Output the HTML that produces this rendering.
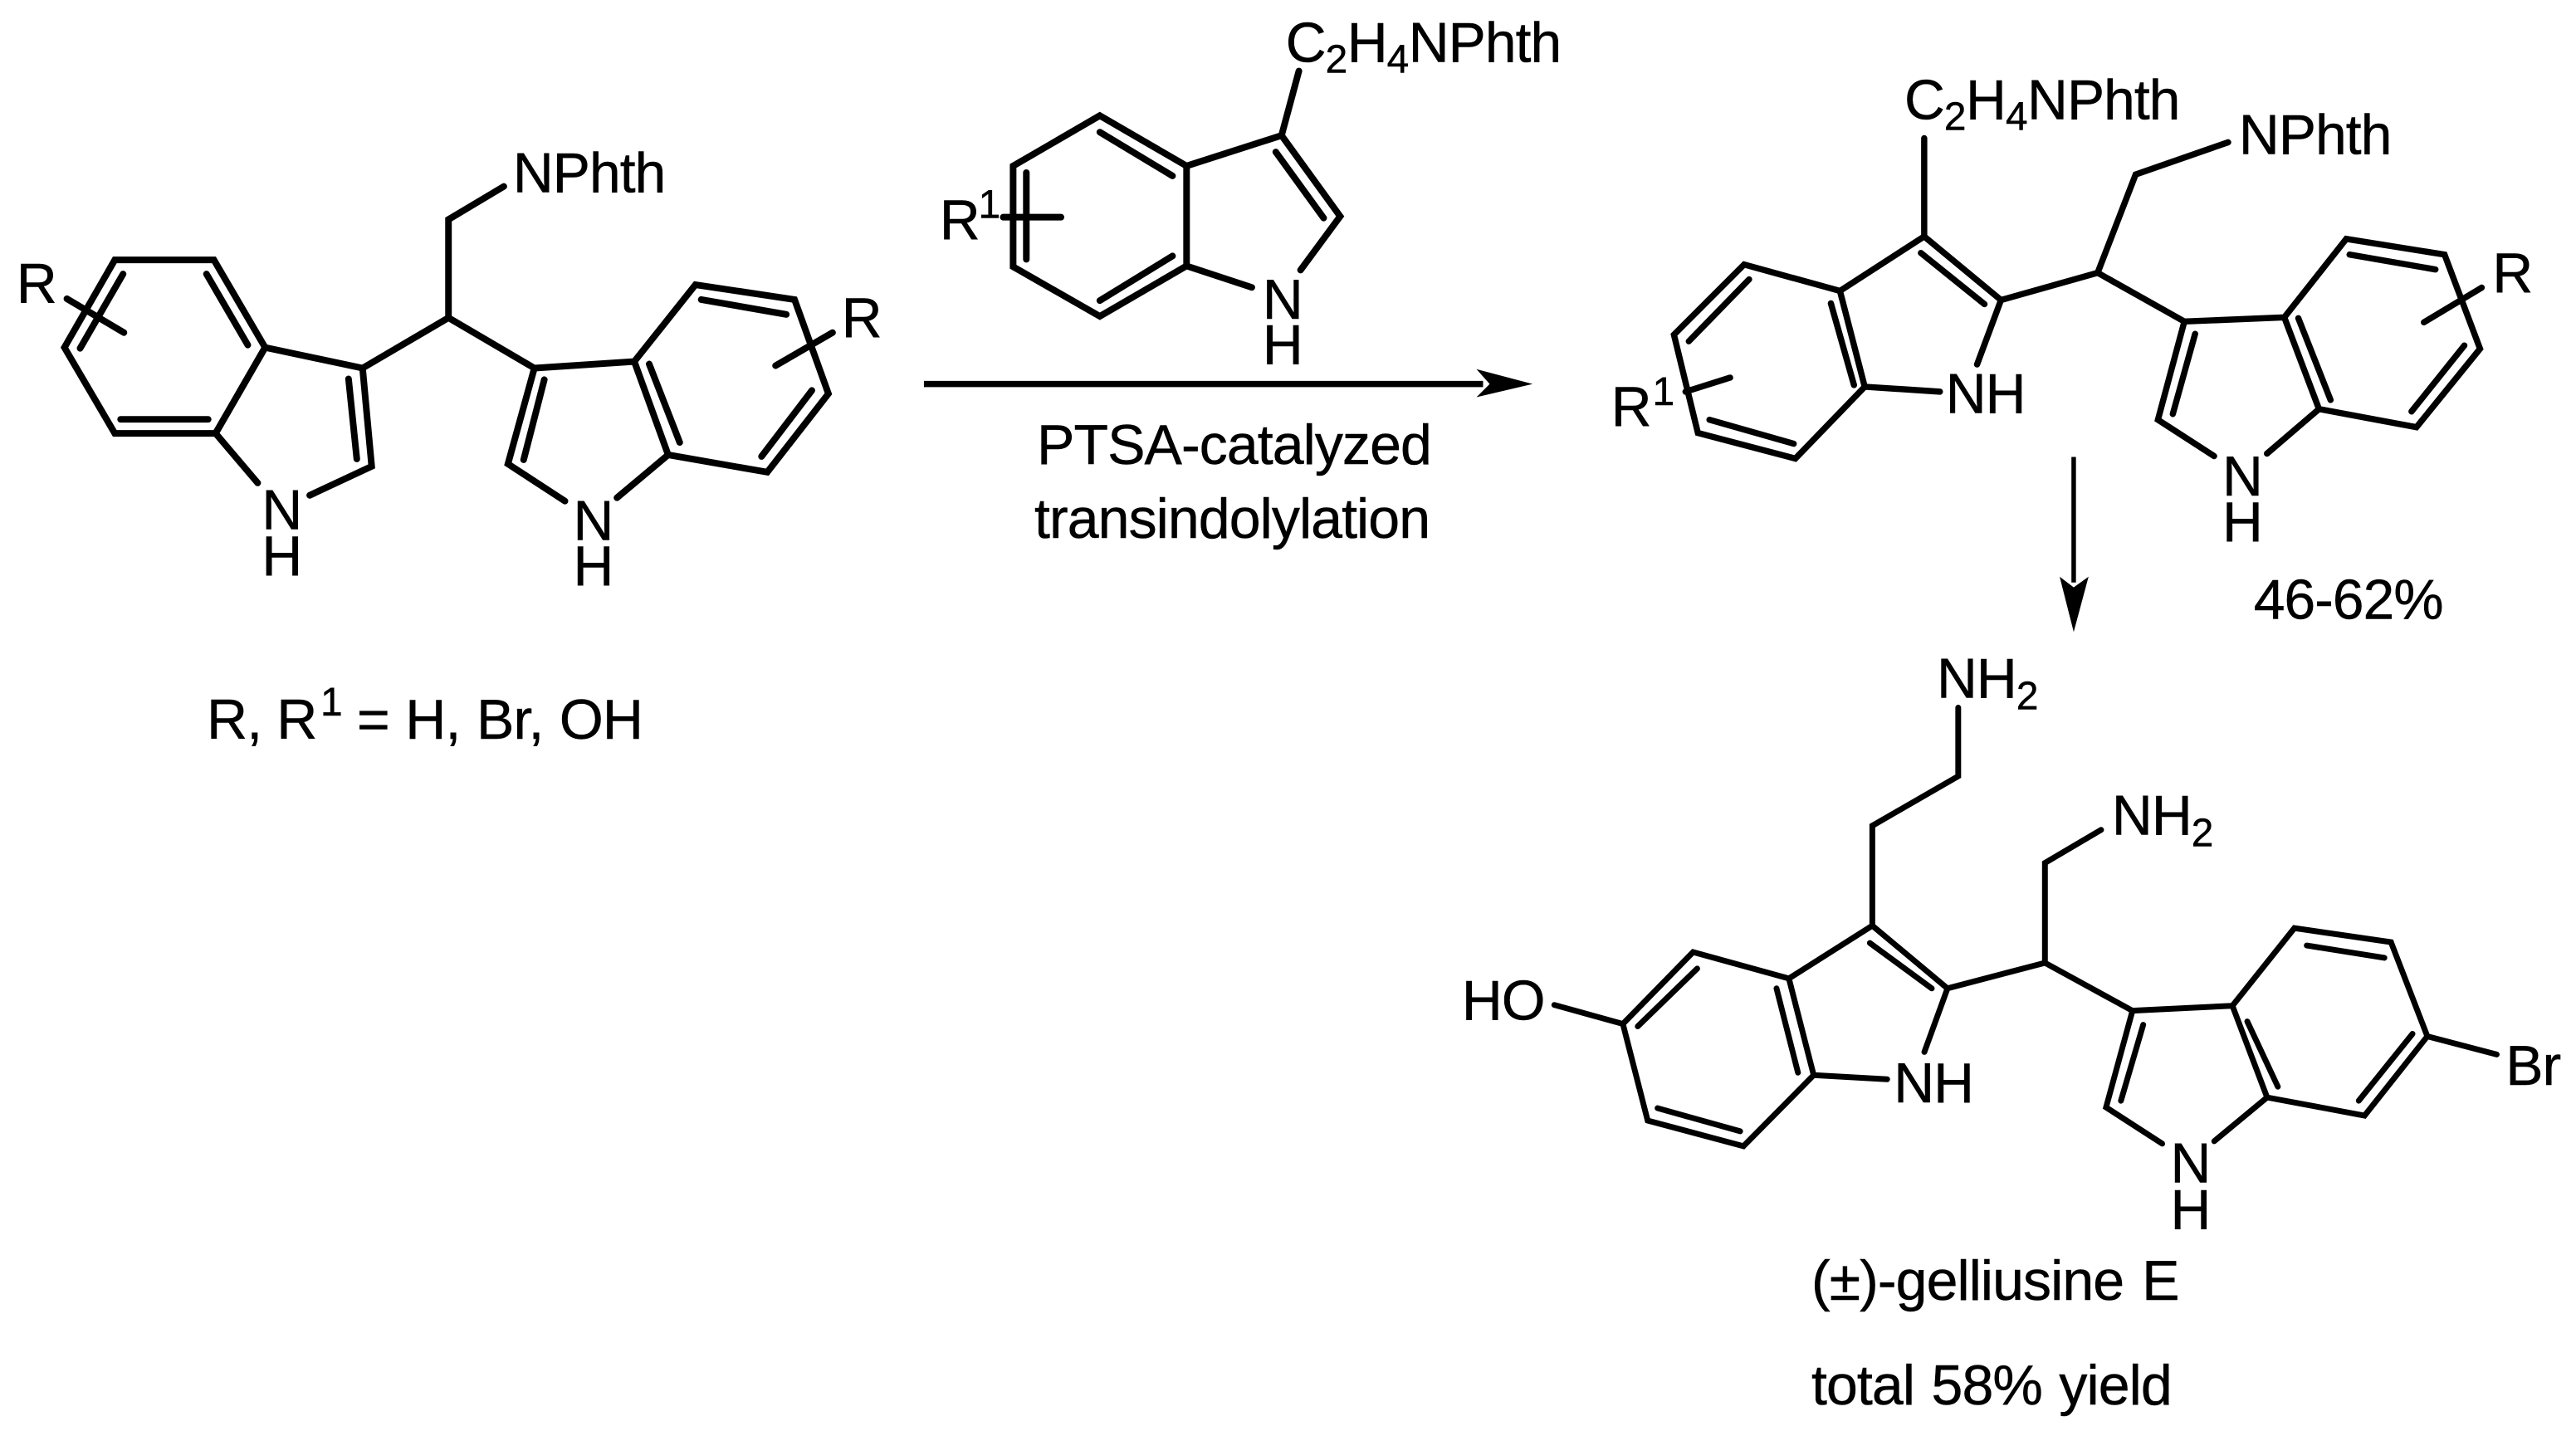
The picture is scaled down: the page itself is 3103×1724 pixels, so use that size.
<!DOCTYPE html>
<html>
<head>
<meta charset="utf-8">
<title>Transindolylation scheme</title>
<style>
html,body{margin:0;padding:0;background:#fff;width:3103px;height:1724px;overflow:hidden}
svg{display:block}
text{font-family:"Liberation Sans",Arial,sans-serif;font-size:68px;letter-spacing:-0.9px;fill:#000;stroke:#000;stroke-width:.5}
.s{font-size:48px;letter-spacing:-0.5px}
path{fill:none;stroke:#000;stroke-width:8;stroke-linejoin:miter;stroke-linecap:round}
.m3 path{stroke-width:7.5}
.m4 path{stroke-width:7}
</style>
</head>
<body>
<svg xmlns="http://www.w3.org/2000/svg" width="3103" height="1724" viewBox="0 0 3103 1724">
<rect width="3103" height="1724" fill="#fff"/>

<!-- Molecule 1 -->
<g transform="translate(0 150) scale(.9949) translate(0 -150)">
<path d="M139 314L259 314L321 420L261 524L139 524L78 420Z"/>
<path d="M149 331L97 421M250 331L300 417M146 507L252 507"/>
<path d="M321 420L439 445L450 564L375 599M261 524L312 584M321 420L261 524"/>
<path d="M422 458L432 555"/>
<path d="M439 445L543 384L647 445M543 384L543 265L610 225"/>
<path d="M647 445L768 437L842 344L962 362L1003 476L929 571L809 550L768 437"/>
<path d="M647 445L615 561L684 606M809 550L747 602"/>
<path d="M659 459L634 556M786 440L823 535M849 362L952 380M983 472L922 552"/>
<path d="M81 361L150 402M1008 402L939 442"/>
<text x="621" y="232">NPhth</text>
<text x="20" y="366">R</text>
<text x="1019" y="408">R</text>
<text x="317" y="640">N</text>
<text x="317" y="696">H</text>
<text x="694" y="653">N</text>
<text x="694" y="708">H</text>
</g>
<text x="249" y="890">R, R</text>
<text class="s" x="386" y="862">1</text>
<text x="430" y="890" style="word-spacing:1.5px">= H, Br, OH</text>

<!-- Reagent indole and main arrow -->
<g transform="translate(1100 0) scale(.9949) translate(-1100 0)">
<path d="M1326 140L1431 201L1431 322L1326 383L1221 323L1221 201Z"/>
<path d="M1326 160L1414 213M1414 310L1326 364M1237 209L1237 314"/>
<path d="M1431 201L1546 164L1617 262L1569 327M1431 322L1510 348M1546 164L1567 86"/>
<path d="M1539 184L1597 264"/>
<path d="M1209 263L1279 263"/>
<text x="1551" y="75">C<tspan class="s" dy="13">2</tspan><tspan dy="-13">H</tspan><tspan class="s" dy="13">4</tspan><tspan dy="-13">NPhth</tspan></text>
<text x="1132" y="290">R</text>
<text class="s" x="1179" y="264">1</text>
<text x="1523" y="386">N</text>
<text x="1523" y="441">H</text>
<path d="M1113 465L1790 465" style="stroke-width:7.5;stroke-linecap:butt"/>
<polygon points="1850,465 1782,447 1798,465 1782,481" fill="#000"/>
</g>
<text x="1249" y="559">PTSA-catalyzed</text>
<text x="1246" y="648">transindolylation</text>

<!-- Product -->
<g class="m3" transform="translate(1900 60) scale(.9949) translate(-1900 -60)">
<path d="M2320 286L2413 363M2320 286L2218 352L2102 320L2017 405L2046 524L2164 555L2248 468L2218 352"/>
<path d="M2320 286L2320 167M2413 363L2384 441M2248 468L2339 474"/>
<path d="M2316 306L2393 368M2207 367L2235 466M2108 338L2035 413M2060 508L2162 537"/>
<path d="M2085 457L2031 474"/>
<path d="M2413 363L2530 330L2635 389M2530 330L2576 211L2688 172"/>
<path d="M2635 389L2756 384L2831 289L2950 308L2993 422L2916 517L2798 495L2756 384"/>
<path d="M2635 389L2603 508L2671 552M2798 495L2735 549"/>
<path d="M2648 404L2621 501M2773 385L2812 484M2835 308L2939 326M2974 418L2910 498"/>
<path d="M2995 348L2925 390"/>
<text x="2296" y="144">C<tspan class="s" dy="13">2</tspan><tspan dy="-13">H</tspan><tspan class="s" dy="13">4</tspan><tspan dy="-13">NPhth</tspan></text>
<text x="2701" y="186">NPhth</text>
<text x="3008" y="354">R</text>
<text x="1941" y="516">R</text>
<text class="s" x="1991" y="490">1</text>
<text x="2346" y="500">NH</text>
<text x="2681" y="600">N</text>
<text x="2681" y="655">H</text>
<text x="2719" y="749">46-62%</text>
<path d="M2501 553L2501 705" style="stroke-width:5.5;stroke-linecap:butt"/>
<polygon points="2501,765 2484,698 2501,711 2519,698" fill="#000"/>
</g>

<!-- Gelliusine E -->
<g class="m4" transform="translate(1740 760) scale(.9949) translate(-1740 -760)">
<path d="M2258 1117L2349 1193M2258 1117L2157 1181L2041 1149L1956 1236L1986 1353L2102 1384L2187 1298L2157 1181"/>
<path d="M2258 1117L2258 996L2362 936L2362 853M2349 1193L2321 1270M2187 1298L2276 1303"/>
<path d="M2255 1138L2330 1193M2142 1193L2168 1295M2046 1169L1974 1239M1998 1338L2098 1366"/>
<path d="M1956 1236L1873 1213"/>
<path d="M2349 1193L2467 1162L2573 1220M2467 1162L2467 1041L2535 1001"/>
<path d="M2573 1220L2694 1214L2769 1120L2886 1137L2930 1251L2854 1347L2736 1325L2694 1214"/>
<path d="M2573 1220L2541 1337L2609 1381M2736 1325L2672 1378"/>
<path d="M2586 1237L2559 1329M2712 1233L2749 1312M2784 1141L2878 1156M2912 1248L2847 1329"/>
<path d="M2930 1251L3014 1273"/>
<text x="2336" y="841">NH<tspan class="s" dy="14">2</tspan></text>
<text x="2548" y="1007">NH<tspan class="s" dy="14">2</tspan></text>
<text x="1761" y="1231">HO</text>
<text x="2284" y="1331">NH</text>
<text x="2619" y="1428">N</text>
<text x="2619" y="1484">H</text>
<text x="3025" y="1310">Br</text>
</g>
<text x="2182" y="1566" style="word-spacing:4px">(±)-gelliusine E</text>
<text x="2182" y="1692" style="word-spacing:2.5px">total 58% yield</text>
</svg>
</body>
</html>
